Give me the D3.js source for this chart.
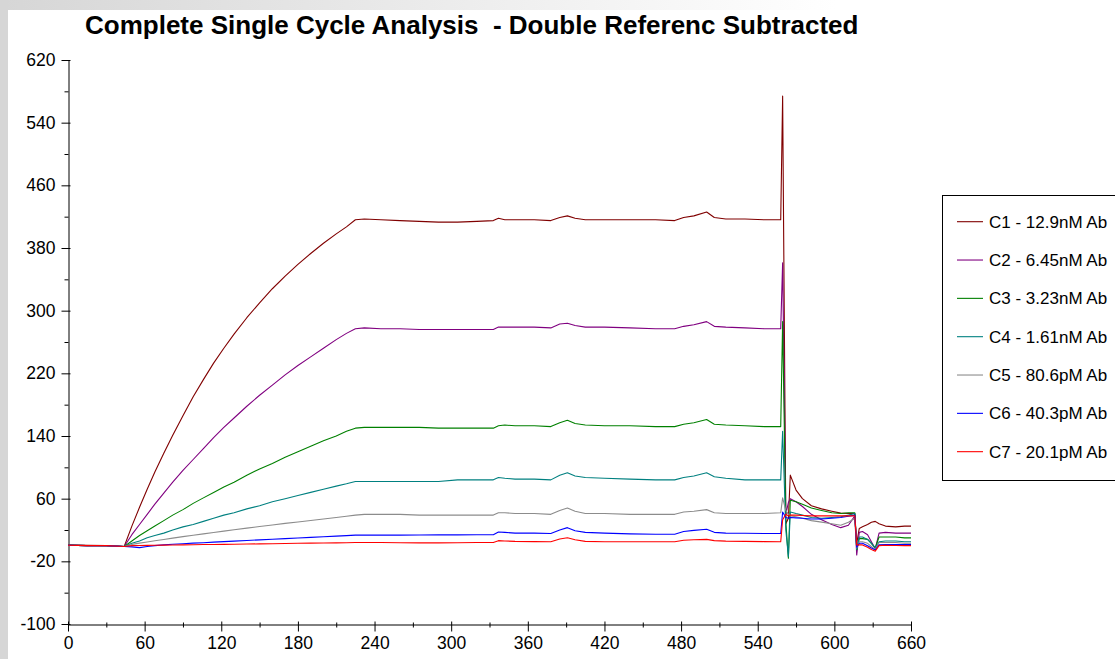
<!DOCTYPE html>
<html>
<head>
<meta charset="utf-8">
<script src="https://cdn.jsdelivr.net/npm/d3@7"></script>
<style>
  html, body { margin: 0; padding: 0; background: #fff; }
  svg { display: block; }
  text { font-family: "Liberation Sans", Arial, Helvetica, sans-serif; }
</style>
</head>
<body>
<svg id="chart" width="1115" height="659"></svg>
<script>
const title = "Complete Single Cycle Analysis  - Double Referenc Subtracted";
const seriesNames = ["C1 - 12.9nM Ab", "C2 - 6.45nM Ab", "C3 - 3.23nM Ab", "C4 - 1.61nM Ab",
                     "C5 - 80.6pM Ab", "C6 - 40.3pM Ab", "C7 - 20.1pM Ab"];
const seriesColors = ["#800000", "#800080", "#008000", "#008080", "#8c8c8c", "#0000ff", "#ff0000"];
const xTicks = [0, 60, 120, 180, 240, 300, 360, 420, 480, 540, 600, 660];
const xMinorTicks = [30, 90, 150, 210, 270, 330, 390, 450, 510, 570, 630];
const yTicks = [-100, -20, 60, 140, 220, 300, 380, 460, 540, 620];
const yMinorTicks = [-60, 20, 100, 180, 260, 340, 420, 500, 580];

const time = [0,15,30,44,
  50,56,62,68,75,82,90,98,106,114,
  122,130,140,150,160,170,180,190,200,210,
  218,225,232,245,260,275,290,305,320,333,
  337,342,350,365,378,385,391,397,405,420,
  440,460,475,482,490,500,506,515,530,545,
  558,559.5,562,564,565.5,570,575,582,590,598,
  605,611,616,617.5,619.5,622,626,629,632,635,
  640,648,655,660];

const c1 = [1,0.5,0,-1,
  25,49,72,94,118,141,166,190,212,233,
  252,270,291,310,328,344,359,373,386,398,
  407,416,417,416,415,414,413,413,414,415,
  418,416,416,416,415,419,421,418,416,416,
  416,416,415,419,421,426,419,417,417,416,
  416,574,28,35,90,71,60,51,47,44,
  41.5,41,41,3,22,24,27,30,31,28,
  25,24,25,25];
const c2 = [0.5,0,0,-1,
  14,27,40,53,67,81,96,110,124,138,
  151,163,178,192,205,218,230,241,252,263,
  271,277,278,277,277,276,276,276,276,276,
  279,279,279,279,278,283,284,281,279,279,
  278,277,277,280,282,286,280,279,278,277,
  277,361,40,55,60,56,50,40,33,27,
  23,26,38,-12,17,18,14,5,-4,16,
  17,16,16,16];
const c3 = [0.5,0,0,-1,
  6,13,19,25,32,39,46,54,61,68,
  75,81,90,98,105,113,120,127,134,140,
  146,150,151,151,151,151,150,150,150,150,
  153,154,153,153,152,157,160,156,154,153,
  153,152,152,155,157,161,155,154,153,152,
  152,286,30,-16,58,56,53,48,45,42,
  41,42,42,-5,9,9,8,3,-3,11,
  11,11,10,10];
const c4 = [0.5,0,0,-1,
  3,6,10,13,16,20,24,27,31,35,
  39,42,47,51,56,60,64,68,72,76,
  79,82,82,82,82,82,82,84,84,84,
  87,86,85,85,84,90,93,89,87,86,
  85,84,84,87,89,93,88,86,84,84,
  84,146,20,-14,43,41,39,36,35,36,
  37,39,41,-5,11,11,8,3,-3,5,
  6,6,5,5];
const c5 = [0.5,0,0,-1,
  1.6,3.2,4.7,6.2,7.9,9.6,11.5,13.3,15.1,16.9,
  18.6,20.3,22.4,24.4,26.4,28.4,30.3,32.2,34.1,36,
  37.6,39,40,40,40,39,39,39,39,39,
  42,42,41,41,40,45,48,44,41,41,
  40,40,40,43,44,46,42,41,41,41,
  42,61,45,40,38,37,35,32,30,28,
  26,30,35,-3,5,5,3,-1,-5,4,
  4,4,3,3];
const c6 = [0.5,0,0,-1,
  -1.5,-2.5,-1,0,1,1.8,2.5,3.2,3.8,4.5,
  5.1,5.8,6.6,7.4,8.2,9,9.8,10.6,11.4,12.2,
  12.8,13.4,13.5,13.5,13.5,13.6,13.8,13.8,14,14,
  17.5,17,16,16,15.5,20,23,19,17,16,
  15,14.5,14.5,18,19.5,21,17,16,15.8,15.5,
  15.5,43,36,35,36,35.5,35,34,34,35,
  36,37.5,39,-2,3,3,0,-3,-5.5,1,
  1.5,1.5,1.5,1.5];
const c7 = [0.5,0,0,-1,
  0.1,0.3,0.4,0.5,0.7,0.8,1,1.2,1.4,1.5,
  1.7,1.9,2.1,2.3,2.5,2.7,3,3.2,3.4,3.6,
  3.8,4,4,4,3.8,3.6,3.6,3.8,4,4,
  6.4,6,5.5,5.2,5,8.5,10.2,7.5,5.5,5,
  5,5,5,7,7.5,8,6.4,5.8,5.5,5.2,
  5,33,40,38,39,39,38.5,38,38,38,
  38,38,38,1,1,1,-2,-5,-7,0,
  0.5,0.2,0,0];
const seriesValues = [c1, c2, c3, c4, c5, c6, c7];

const svg = d3.select("#chart");

// background frame
const defs = svg.append("defs");
const grad = defs.append("linearGradient").attr("id", "topgrad").attr("x1", "0").attr("x2", "1").attr("y1", "0").attr("y2", "0");
grad.append("stop").attr("offset", "0").attr("stop-color", "#d6d6d6");
grad.append("stop").attr("offset", "0.75").attr("stop-color", "#ffffff");
svg.append("rect").attr("x", 0).attr("y", 0).attr("width", 1115).attr("height", 10).attr("fill", "url(#topgrad)");
svg.append("rect").attr("x", 0).attr("y", 0).attr("width", 8).attr("height", 659).attr("fill", "#d6d6d6");

const x = d3.scaleLinear().domain([0, 660]).range([68, 911]);
const y = d3.scaleLinear().domain([-100, 620]).range([624, 60]);

// title
svg.append("text").attr("x", 85).attr("y", 34)
  .style("white-space", "pre")
  .attr("font-size", 26).attr("font-weight", "bold").attr("fill", "#000")
  .text(title);

const fmt = d => String(d);

// axes
const gx = svg.append("g").attr("transform", "translate(0,624.5)");
gx.call(d3.axisBottom(x).tickValues(xTicks).tickSize(7).tickSizeOuter(0).tickPadding(5).tickFormat(fmt));
gx.selectAll(".tick line").attr("y1", -3);
const gxm = svg.append("g").attr("transform", "translate(0,624.5)");
gxm.call(d3.axisBottom(x).tickValues(xMinorTicks).tickSize(3).tickSizeOuter(0).tickFormat(""));
gxm.select(".domain").remove();
gxm.selectAll(".tick line").attr("y1", -2);

const gy = svg.append("g").attr("transform", "translate(68.5,0)");
gy.call(d3.axisLeft(y).tickValues(yTicks).tickSize(7).tickSizeOuter(0).tickPadding(6).tickFormat(fmt));
gy.selectAll(".tick line").attr("x1", 2);
const gym = svg.append("g").attr("transform", "translate(68.5,0)");
gym.call(d3.axisLeft(y).tickValues(yMinorTicks).tickSize(4).tickSizeOuter(0).tickFormat(""));
gym.select(".domain").remove();

svg.selectAll(".tick text").attr("font-size", 17.5).attr("font-family", "Liberation Sans, Arial, sans-serif").attr("fill", "#000");
svg.selectAll(".domain, .tick line").attr("stroke", "#000");

// lines
const line = d3.line().x((d, i) => x(time[i])).y(d => y(d));
seriesValues.forEach((vals, k) => {
  svg.append("path").datum(vals)
    .attr("fill", "none")
    .attr("stroke", seriesColors[k])
    .attr("stroke-width", 1.1)
    .attr("stroke-linejoin", "round")
    .attr("d", line);
});

// legend
const lg = svg.append("g");
lg.append("rect").attr("x", 942.5).attr("y", 195.5).attr("width", 200).attr("height", 285)
  .attr("fill", "#fff").attr("stroke", "#000").attr("stroke-width", 1);
seriesNames.forEach((name, k) => {
  const cy = 221.7 + k * 38.33;
  lg.append("line").attr("x1", 957).attr("x2", 983).attr("y1", cy).attr("y2", cy)
    .attr("stroke", seriesColors[k]).attr("stroke-width", 1.1);
  lg.append("text").attr("x", 989).attr("y", cy).attr("dy", "0.36em")
    .attr("font-size", 17).attr("fill", "#000").text(name);
});
</script>
</body>
</html>
